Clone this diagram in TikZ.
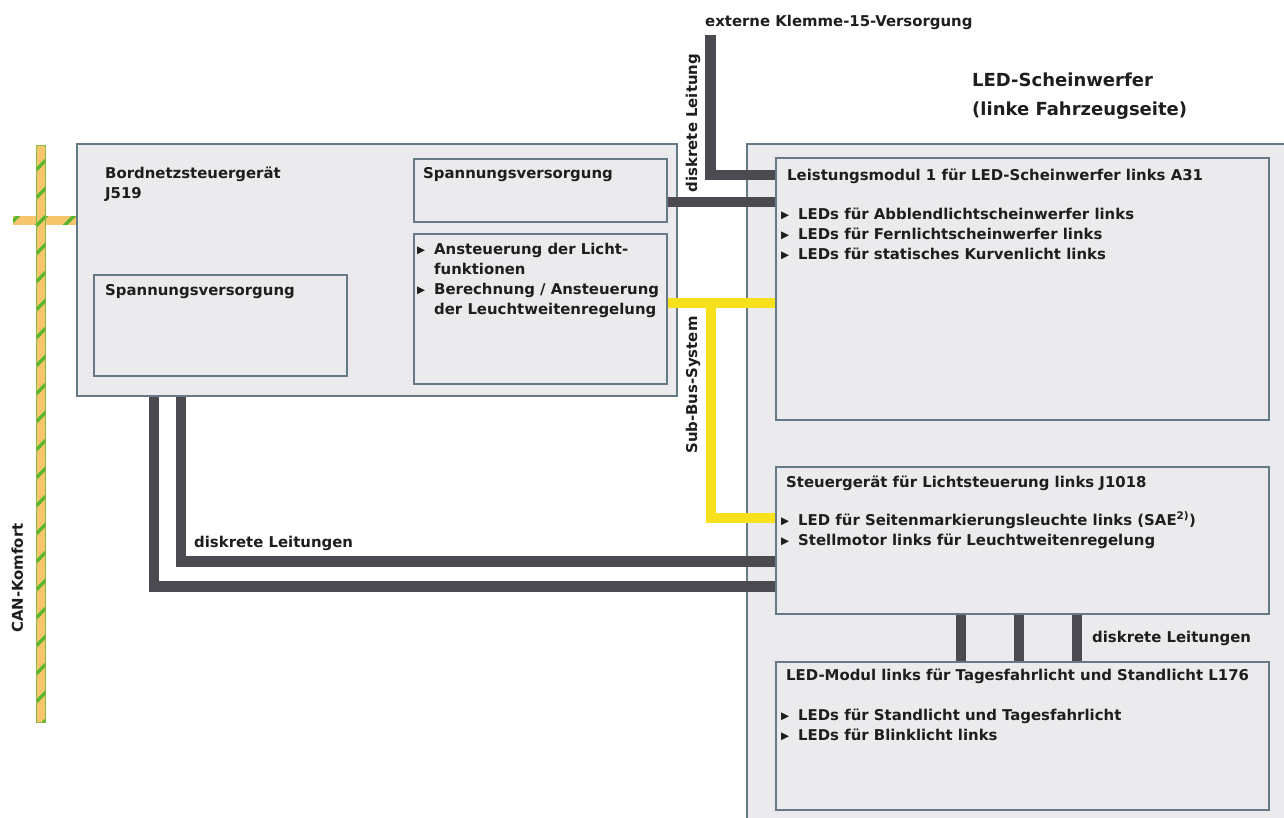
\documentclass[tikz,border=0pt]{standalone}
\usepackage{fontspec}
\setmainfont{DejaVu Sans}
\newfontfamily\symf{DejaVu Sans}
\usetikzlibrary{calc}
\definecolor{boxc}{HTML}{EBEBED}
\definecolor{bordc}{HTML}{667A86}
\definecolor{wirec}{HTML}{4A4A50}
\definecolor{yel}{HTML}{F6E11C}
\definecolor{canor}{HTML}{F7C56B}
\definecolor{cangr}{HTML}{58B52E}
\definecolor{txtc}{HTML}{1E1E1E}
\newcommand\bodyf{\bfseries\fontsize{14.9}{20}\selectfont}
\newcommand\headf{\bfseries\fontsize{18}{29}\selectfont}
\newcommand\bl{\makebox[17pt][l]{\symf\fontsize{10.5}{10.5}\selectfont\raisebox{0.5pt}{▶}}}
\newcommand\ind{\hspace*{17pt}}
\begin{document}
\begin{tikzpicture}[x=1pt,y=-1pt,
  box/.style={draw=bordc, fill=boxc, line width=1.6pt, anchor=north west, inner sep=0pt},
  wire/.style={draw=wirec, line width=10.5pt},
  ywire/.style={draw=yel, line width=10pt},
  txt/.style={anchor=base west, inner sep=0pt, font=\bodyf, text=txtc, align=left},
  rtxt/.style={anchor=base, inner sep=0pt, font=\bodyf, text=txtc, rotate=90},
  htxt/.style={anchor=base west, inner sep=0pt, font=\headf, text=txtc, align=left}]
\useasboundingbox[fill=white] (0,0) rectangle (1284,817);

% headlamp housing
\node[box, minimum width=600pt, minimum height=720pt] (hl) at (746,143) {};

% CAN bus
\begin{scope}
  \clip (36.5,145) rectangle (45.5,722) (13,216) rectangle (78,225);
  \fill[canor] (36.5,145) rectangle (45.5,722);
  \fill[canor] (13,216) rectangle (78,225);
  \foreach \c in {150,178,...,800} \draw[cangr, line width=3.4pt] (0,\c) -- (90,\c-90);
\end{scope}
\draw[cangr!70!canor, line width=0.6pt] (36.5,145) rectangle (45.5,722);

% J519
\node[box, minimum width=600pt, minimum height=252pt] (j519) at (76,143) {};
\node[box, minimum width=253pt, minimum height=63pt] (svtop) at (413,158) {};
\node[box, minimum width=253pt, minimum height=150pt] (anst) at (413,233) {};
\node[box, minimum width=253pt, minimum height=101pt] (svleft) at (93,274) {};

% modules
\node[box, minimum width=493pt, minimum height=262pt] (lm) at (775,157) {};
\node[box, minimum width=493pt, minimum height=147pt] (sg) at (775,466) {};
\node[box, minimum width=493pt, minimum height=148pt] (ledm) at (775,661) {};

% wires
\coordinate (k15) at (710.5,35);
\draw[wire] (k15) |- ($(lm.north west)+(0,18)$);
\draw[wire] ($(svtop.north east)+(0,44)$) coordinate (w1) -- (w1 -| lm.west);
\draw[ywire] ($(anst.north east)+(0,70)$) coordinate (y1) -- (y1 -| lm.west);
\coordinate (ybus) at (711,303);
\draw[ywire] (ybus) |- ($(sg.north west)+(0,52)$);
\draw[wire] ($(j519.south west)+(78,0)$) |- ($(sg.south west)+(0,-28)$);
\draw[wire] ($(j519.south west)+(105,0)$) |- ($(sg.south west)+(0,-53)$);
\foreach \dx/\n in {186/d1,244/d2,302/d3}
  \draw[wire] ($(sg.south west)+(\dx,0)$) coordinate (\n) -- (\n |- ledm.north);

% texts (multi-line nodes: base = last line)
\node[txt] (tk15) at (705,26) {externe Klemme-15-Versorgung};
\node[htxt] (th1) at (972,86) {LED-Scheinwerfer};
\node[htxt] (th2) at (972,115) {(linke Fahrzeugseite)};
\node[rtxt] (tdl) at (697,123) {diskrete Leitung};
\node[rtxt] (tsub) at (697,385) {Sub-Bus-System};
\node[rtxt] (tcan) at (23,578) {CAN-Komfort};
\node[txt] (tj519) at (105,198) {Bordnetzsteuergerät\\J519};
\node[txt] (tsvt) at (423,178) {Spannungsversorgung};
\node[txt] (tsvl) at (105,295) {Spannungsversorgung};
\node[txt] (tanst) at (417,314) {\bl Ansteuerung der Licht-\\\ind funktionen\\\bl Berechnung / Ansteuerung\\\ind der Leuchtweitenregelung};
\node[txt] (tlm) at (787,180) {Leistungsmodul 1 für LED-Scheinwerfer links A31};
\node[txt] (tlmb) at (781,259) {\bl LEDs für Abblendlichtscheinwerfer links\\\bl LEDs für Fernlichtscheinwerfer links\\\bl LEDs für statisches Kurvenlicht links};
\node[txt] (tsg) at (786,487) {Steuergerät für Lichtsteuerung links J1018};
\node[txt] (tsgb) at (781,545) {\bl LED für Seitenmarkierungsleuchte links (SAE\textsuperscript{2)})\\\bl Stellmotor links für Leuchtweitenregelung};
\node[txt] (tledm) at (786,680) {LED-Modul links für Tagesfahrlicht und Standlicht L176};
\node[txt] (tledb) at (781,740) {\bl LEDs für Standlicht und Tagesfahrlicht\\\bl LEDs für Blinklicht links};
\node[txt] (tdl2) at (1092,642) {diskrete Leitungen};
\node[txt] (tdl3) at (194,547) {diskrete Leitungen};
\end{tikzpicture}
\end{document}
